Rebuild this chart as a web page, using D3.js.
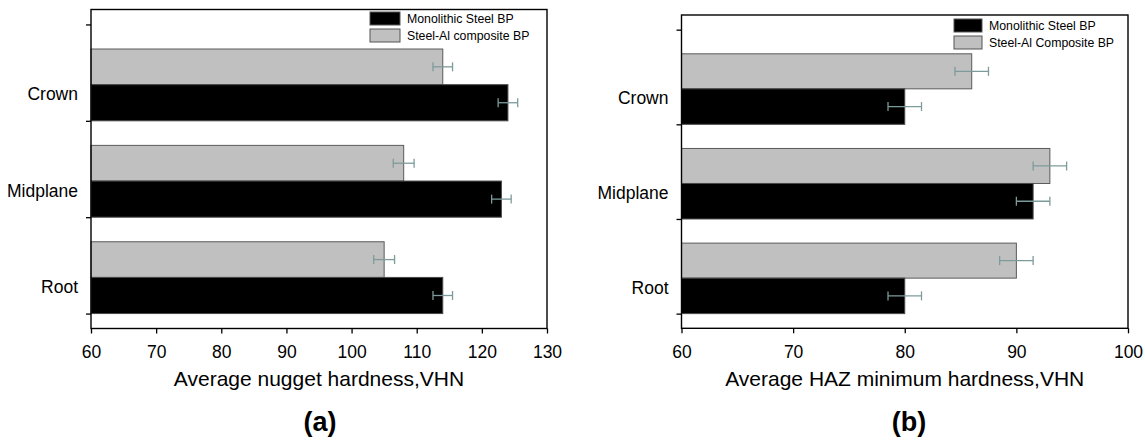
<!DOCTYPE html>
<html>
<head>
<meta charset="utf-8">
<script src="https://cdn.jsdelivr.net/npm/d3@7"></script>
<style>
  body { margin: 0; background: #fff; }
  svg text { font-family: "Liberation Sans", Arial, sans-serif; fill: #000; }
</style>
</head>
<body>
<svg id="chart" width="1145" height="441"></svg>
<script>
// categories, top to bottom
const categories = ["Crown", "Midplane", "Root"];
const seriesNames = ["Monolithic Steel BP", "Steel-Al composite BP"];
const seriesNamesHaz = ["Monolithic Steel BP", "Steel-Al Composite BP"];

// (a) average nugget hardness, VHN
const nuggetMonolithic = [124, 123, 114];
const nuggetComposite = [114, 108, 105];
const nuggetMonolithicErr = [1.5, 1.5, 1.5];
const nuggetCompositeErr = [1.5, 1.6, 1.6];
const nuggetTicks = [60, 70, 80, 90, 100, 110, 120, 130];

// (b) average HAZ minimum hardness, VHN
const hazMonolithic = [80, 91.5, 80];
const hazComposite = [86, 93, 90];
const hazMonolithicErr = [1.5, 1.5, 1.5];
const hazCompositeErr = [1.5, 1.5, 1.5];
const hazTicks = [60, 70, 80, 90, 100];

const panels = [
    {
        left: 91, right: 547, top: 9.5, bottom: 328.5,
        ticks: nuggetTicks, mono: nuggetMonolithic, comp: nuggetComposite,
        monoErr: nuggetMonolithicErr, compErr: nuggetCompositeErr,
        names: seriesNames, legendX: 370, legendY: 12, swatchW: 30,
        title: "Average nugget hardness,VHN", tag: "(a)", tagX: 320
    },
    {
        left: 681.5, right: 1128, top: 15, bottom: 328.3,
        ticks: hazTicks, mono: hazMonolithic, comp: hazComposite,
        monoErr: hazMonolithicErr, compErr: hazCompositeErr,
        names: seriesNamesHaz, legendX: 954, legendY: 19, swatchW: 28,
        title: "Average HAZ minimum hardness,VHN", tag: "(b)", tagX: 909
    }
];

const grayFill = "#c0c0c0";
const errColor = "#7d9b9b";
const svg = d3.select("#chart");

panels.forEach(p => drawPanel(p));

function drawPanel(p) {
    let g = svg.append("g");

    let xScale = d3.scaleLinear()
        .domain(d3.extent(p.ticks))
        .range([p.left, p.right]);
    // band boundaries sit at 0..3, the frame has a little slack on both ends
    let yScale = d3.scaleLinear()
        .domain([-0.155, categories.length + 0.155])
        .range([p.top, p.bottom]);

    let rows = categories.map((c, i) => ({
        name: c, i: i,
        mono: p.mono[i], comp: p.comp[i],
        monoErr: p.monoErr[i], compErr: p.compErr[i]
    }));

    // composite (gray) bar on top, monolithic (black) below
    let bars = [
        { key: "comp", err: "compErr", from: 0.255, to: 0.625, fill: grayFill, stroke: "#5a5a5a" },
        { key: "mono", err: "monoErr", from: 0.625, to: 1.0, fill: "#000", stroke: "#4a4a4a" }
    ];

    bars.forEach(b => {
        g.selectAll(null)
            .data(rows)
            .enter().append("rect")
            .attr("x", xScale(p.ticks[0]))
            .attr("y", d => yScale(d.i + b.from))
            .attr("width", d => xScale(d[b.key]) - xScale(p.ticks[0]))
            .attr("height", d => yScale(d.i + b.to) - yScale(d.i + b.from))
            .attr("fill", b.fill)
            .attr("stroke", b.stroke)
            .attr("stroke-width", 1);
    });

    // error bars
    bars.forEach(b => {
        let eb = g.selectAll(null)
            .data(rows)
            .enter().append("g")
            .attr("stroke", errColor)
            .attr("stroke-width", 1.3);
        let cy = d => yScale(d.i + (b.from + b.to) / 2);
        eb.append("line")
            .attr("x1", d => xScale(d[b.key] - d[b.err]))
            .attr("x2", d => xScale(d[b.key] + d[b.err]))
            .attr("y1", cy).attr("y2", cy);
        [-1, 1].forEach(s => {
            eb.append("line")
                .attr("x1", d => xScale(d[b.key] + s * d[b.err]))
                .attr("x2", d => xScale(d[b.key] + s * d[b.err]))
                .attr("y1", d => cy(d) - 4.5)
                .attr("y2", d => cy(d) + 4.5);
        });
    });

    // frame
    g.append("rect")
        .attr("x", p.left).attr("y", p.top)
        .attr("width", p.right - p.left)
        .attr("height", p.bottom - p.top)
        .attr("fill", "none")
        .attr("stroke", "#000")
        .attr("stroke-width", 1.4);

    let xAxis = d3.axisBottom(xScale)
        .tickValues(p.ticks)
        .tickSize(5)
        .tickPadding(12)
        .tickFormat(d3.format("d"));
    let xg = g.append("g")
        .attr("transform", `translate(0, ${p.bottom})`)
        .call(xAxis);
    xg.select(".domain").remove();
    xg.selectAll("line").attr("stroke", "#000").attr("stroke-width", 1.3);

    let yAxis = d3.axisLeft(yScale)
        .tickValues(d3.range(categories.length + 1))
        .tickSize(5)
        .tickFormat("");
    let yg = g.append("g")
        .attr("transform", `translate(${p.left}, 0)`)
        .call(yAxis);
    yg.select(".domain").remove();
    yg.selectAll("line").attr("stroke", "#000").attr("stroke-width", 1.3);

    g.selectAll("text")
        .style("font-size", "17.5px")
        .style("font-family", "Liberation Sans, Arial, sans-serif");

    // category labels
    g.selectAll(null)
        .data(rows)
        .enter().append("text")
        .attr("x", p.left - 13)
        .attr("y", d => yScale(d.i + 0.725))
        .attr("dy", "0.35em")
        .attr("text-anchor", "end")
        .style("font-size", "17.5px")
        .text(d => d.name);

    // legend
    let legendFills = ["#000", grayFill];
    let lg = g.append("g");
    p.names.forEach((name, k) => {
        lg.append("rect")
            .attr("x", p.legendX)
            .attr("y", p.legendY + k * 17)
            .attr("width", p.swatchW)
            .attr("height", 13)
            .attr("fill", legendFills[k])
            .attr("stroke", "#555")
            .attr("stroke-width", 1);
        lg.append("text")
            .attr("x", p.legendX + p.swatchW + 7)
            .attr("y", p.legendY + k * 17 + 6.5)
            .attr("dy", "0.35em")
            .style("font-size", "12.3px")
            .text(name);
    });

    // axis title and panel tag
    g.append("text")
        .attr("x", (p.left + p.right) / 2)
        .attr("y", 386)
        .attr("text-anchor", "middle")
        .style("font-size", "21px")
        .text(p.title);
    g.append("text")
        .attr("x", p.tagX)
        .attr("y", 431)
        .attr("text-anchor", "middle")
        .style("font-size", "27px")
        .style("font-weight", "bold")
        .text(p.tag);
}
</script>
</body>
</html>
